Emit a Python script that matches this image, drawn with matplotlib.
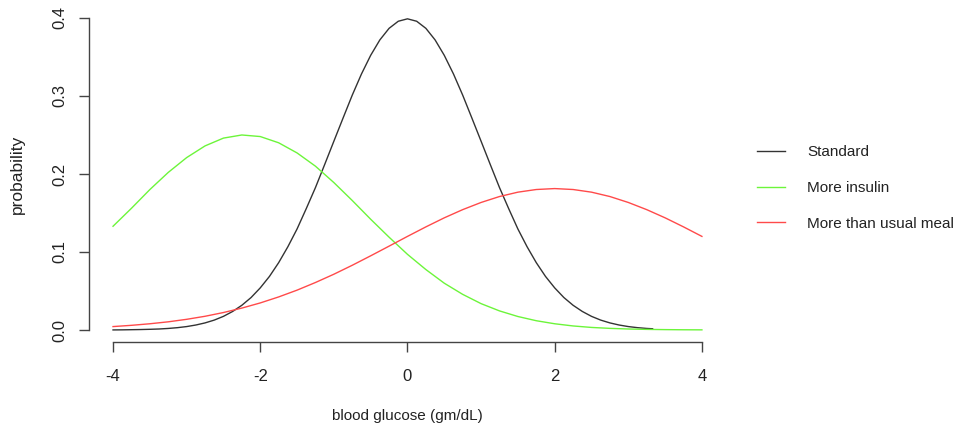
import matplotlib
matplotlib.use("Agg")
import matplotlib.pyplot as plt

plt.rcParams['font.family'] = ['Liberation Sans', 'DejaVu Sans']

x_std = [-4, -3.875, -3.75, -3.625, -3.5, -3.375, -3.25, -3.125, -3, -2.875, -2.75,
         -2.625, -2.5, -2.375, -2.25, -2.125, -2, -1.875, -1.75, -1.625, -1.5, -1.375,
         -1.25, -1.125, -1, -0.875, -0.75, -0.625, -0.5, -0.375, -0.25, -0.125, 0,
         0.125, 0.25, 0.375, 0.5, 0.625, 0.75, 0.875, 1, 1.125, 1.25, 1.375, 1.5,
         1.625, 1.75, 1.875, 2, 2.125, 2.25, 2.375, 2.5, 2.625, 2.75, 2.875, 3,
         3.125, 3.25, 3.33]
y_std = [0.0001, 0.0002, 0.0004, 0.0006, 0.0009, 0.0013, 0.0020, 0.0030, 0.0044,
         0.0064, 0.0091, 0.0127, 0.0175, 0.0238, 0.0317, 0.0416, 0.0540, 0.0687,
         0.0863, 0.1067, 0.1295, 0.1556, 0.1826, 0.2121, 0.2420, 0.2717, 0.3011,
         0.3282, 0.3521, 0.3719, 0.3867, 0.3958, 0.3989, 0.3958, 0.3867, 0.3719,
         0.3521, 0.3282, 0.3011, 0.2717, 0.2420, 0.2121, 0.1826, 0.1556, 0.1295,
         0.1067, 0.0863, 0.0687, 0.0540, 0.0416, 0.0317, 0.0238, 0.0175, 0.0127,
         0.0091, 0.0064, 0.0044, 0.0030, 0.0020, 0.0016]

x_all = [-4, -3.75, -3.5, -3.25, -3, -2.75, -2.5, -2.25, -2, -1.75, -1.5, -1.25, -1,
         -0.75, -0.5, -0.25, 0, 0.25, 0.5, 0.75, 1, 1.25, 1.5, 1.75, 2, 2.25, 2.5,
         2.75, 3, 3.25, 3.5, 3.75, 4]
y_insulin = [0.133, 0.156, 0.180, 0.202, 0.221, 0.236, 0.246, 0.250, 0.248, 0.240,
             0.227, 0.210, 0.189, 0.166, 0.142, 0.119, 0.097, 0.0775, 0.060, 0.0457,
             0.0338, 0.0245, 0.0173, 0.0119, 0.0080, 0.0052, 0.0033, 0.0021, 0.0013,
             0.0008, 0.0005, 0.0003, 0.0002]
y_meal = [0.0044, 0.0060, 0.0080, 0.0105, 0.0137, 0.0176, 0.0224, 0.0281, 0.0347,
          0.0424, 0.0511, 0.0609, 0.0715, 0.0830, 0.0951, 0.1075, 0.1200, 0.1322,
          0.1438, 0.1543, 0.1635, 0.1711, 0.1767, 0.1801, 0.1813, 0.1801, 0.1767,
          0.1711, 0.1635, 0.1543, 0.1438, 0.1322, 0.1200]

labels = ["Standard", "More insulin", "More than usual meal"]
xticks = [-4, -2, 0, 2, 4]
yticks = [0.0, 0.1, 0.2, 0.3, 0.4]

fig = plt.figure(figsize=(9.6, 4.32), dpi=100)
ax = fig.add_axes([0.0932, 0.2072, 0.6625, 0.7801])

ax.plot(x_std, y_std, color='#333333', lw=1.0, label=labels[0])
ax.plot(x_all, y_insulin, color='#6cf53a', lw=1.0, label=labels[1])
ax.plot(x_all, y_meal, color='#ff4a4a', lw=1.0, label=labels[2])

ax.set_xlim(-4.32, 4.32)
ax.set_ylim(-0.016, 0.416)
ax.spines['top'].set_visible(False)
ax.spines['right'].set_visible(False)
ax.spines['left'].set_bounds(0, 0.4)
ax.spines['bottom'].set_bounds(-4, 4)
for s in ('left', 'bottom'):
    ax.spines[s].set_color('#444444')
    ax.spines[s].set_linewidth(1.0)

ax.set_xticks(xticks)
ax.set_xticklabels([f"{t:d}" for t in xticks])
ax.set_yticks(yticks)
ax.set_yticklabels([f"{t:.1f}" for t in yticks], rotation=90, va='center')
ax.tick_params(axis='both', length=7, width=1.0, color='#444444', labelsize=12,
               labelcolor='#222222')
ax.tick_params(axis='x', pad=12)
ax.tick_params(axis='y', pad=9)

ax.set_xlabel("blood glucose (gm/dL)", fontsize=11, color='#222222', labelpad=18)
ax.set_ylabel("probability", fontsize=12.5, color='#222222', labelpad=20)

leg = ax.legend(loc='center left', bbox_to_anchor=(1.028, 0.458), frameon=False,
                fontsize=11, handlelength=1.8, handletextpad=1.5, labelspacing=1.42)
for t in leg.get_texts():
    t.set_color('#222222')

fig.savefig("out.png", dpi=100)
